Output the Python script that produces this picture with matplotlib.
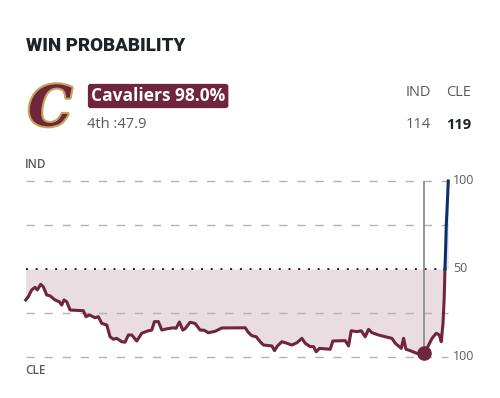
import matplotlib.pyplot as plt
import matplotlib.patheffects as pe
import numpy as np

# game clock (minutes elapsed) and Cavaliers win probability (%)
minutes = [0.0, 0.30, 0.68, 1.06, 1.32, 1.70, 2.00, 2.39, 2.76, 3.33, 3.82, 4.09, 4.35, 4.66,
           5.04, 6.55, 6.85, 7.23, 7.88, 8.25, 8.64, 9.21, 9.58, 9.96, 10.34, 10.91, 11.29,
           11.66, 12.05, 12.62, 13.18, 13.87, 14.32, 14.62, 15.07, 15.46, 16.03, 16.78, 17.08,
           17.46, 17.84, 18.11, 18.67, 19.24, 19.81, 20.27, 20.75, 21.52, 22.28, 24.93, 25.30,
           25.69, 26.18, 26.63, 27.01, 27.96, 28.26, 28.60, 29.10, 29.67, 30.23, 30.80, 31.37,
           31.75, 32.31, 32.69, 33.00, 33.37, 34.59, 34.89, 36.29, 36.67, 36.97, 37.62, 38.11,
           38.56, 38.94, 39.33, 40.08, 40.84, 41.60, 41.98, 42.66, 42.92, 43.19, 43.68, 44.25,
           44.82, 45.24, 45.58, 46.15, 46.64, 46.98, 47.20, 47.40, 47.54, 47.62, 47.71, 47.77,
           47.88, 48.0]
cle_prob = [67.6, 65.7, 61.9, 60.4, 61.9, 58.7, 60.1, 64.8, 65.2, 67.6, 68.6, 70.5, 67.6, 68.6,
            73.3, 73.7, 77.1, 76.1, 77.7, 77.1, 80.9, 81.8, 88.5, 89.9, 89.4, 91.3, 91.6,
            87.5, 87.5, 90.9, 86.5, 85.2, 84.7, 79.9, 79.9, 84.7, 84.0, 83.4, 83.7,
            80.1, 84.7, 83.9, 80.3, 80.9, 84.7, 84.8, 86.2, 85.4, 83.5, 83.4, 86.1,
            87.9, 88.5, 91.3, 93.2, 93.7, 96.4, 93.7, 91.3, 92.2, 93.2, 91.9, 89.4,
            92.2, 94.1, 94.1, 97.0, 95.1, 95.6, 90.9, 90.7, 93.7, 85.1, 85.6, 85.1,
            88.5, 84.3, 86.2, 87.5, 88.5, 89.4, 92.2, 95.1, 89.4, 95.6, 96.4, 97.6,
            98.5, 98.0, 95.1, 89.4, 86.5, 87.5, 91.3, 80.9, 65.7, 50.0, 36.4, 25.0,
            13.6, 0.0]
current_min = 45.24
current_prob = 98.0
away, home = 'IND', 'CLE'
away_score, home_score = 114, 119

wine = '#6f263d'
navy = '#0c2f6b'
gold = '#c5a35a'
grey = '#5a5a5a'

W, H = 500, 398
fig = plt.figure(figsize=(W / 100, H / 100), dpi=100)
fig.patch.set_facecolor('white')


def px(x, y):
    return x / W, 1 - y / H


# header
fig.text(*px(26, 46), 'WIN PROBABILITY', fontsize=13.5, fontweight='heavy', color='#1e2328',
         va='center', family=['Roboto', 'DejaVu Sans'])
fig.text(*px(50, 110), 'C', fontsize=40, fontweight='bold', fontstyle='italic', color=wine,
         family='DejaVu Serif', ha='center', va='center',
         path_effects=[pe.withStroke(linewidth=3, foreground=gold)])
fig.text(*px(91, 96), f'Cavaliers {current_prob:.1f}%', fontsize=12.5, fontweight='bold',
         color='white', va='center', family='Open Sans',
         bbox=dict(boxstyle='round,pad=0.18,rounding_size=0.15', fc=wine, ec='none'))
fig.text(*px(87, 124), '4th :47.9', fontsize=10.5, color=grey, va='center', family='Open Sans')
fig.text(*px(418, 93), away, fontsize=10.5, color=grey, va='center', ha='center', family='Open Sans')
fig.text(*px(459, 93), home, fontsize=10.5, color=grey, va='center', ha='center', family='Open Sans')
fig.text(*px(418, 125), str(away_score), fontsize=10.5, color=grey, va='center', ha='center',
         family='Open Sans')
fig.text(*px(459, 125), str(home_score), fontsize=10.5, color='#1e2328', fontweight='bold',
         va='center', ha='center', family='Open Sans')

# chart
ax = fig.add_axes([25.7 / W, 1 - 357 / H, (448.3 - 25.7) / W, 176 / H])
ax.set_xlim(0, 48)
ax.set_ylim(100, 0)
ax.axis('off')

for lvl in [0, 25, 75, 100]:
    ax.axhline(lvl, color='#b3b3b3', lw=1, linestyle=(0, (6, 7)), zorder=1, clip_on=False)
ax.axhline(50, color='#222222', lw=1.4, linestyle=(0, (1, 4)), zorder=1, clip_on=False)

t = np.array(minutes)
p = np.array(cle_prob)
ax.fill_between(t, p, 50, where=p >= 50, interpolate=True, color='#e9dde1', lw=0, zorder=0)
ax.fill_between(t, p, 50, where=p <= 50, interpolate=True, color='#dce8f4', lw=0, zorder=0)

cut = int(np.argmax(p <= 50))
ax.plot(t[:cut + 1], p[:cut + 1], color=wine, lw=2.2, solid_joinstyle='round', zorder=3,
        clip_on=False)
ax.plot(t[cut:], p[cut:], color=navy, lw=2.2, solid_joinstyle='round', zorder=3, clip_on=False)

ax.plot([current_min, current_min], [0, current_prob], color='#8f8f8f', lw=1.3, zorder=2)
ax.scatter([current_min], [current_prob], s=90, color=wine, zorder=4, clip_on=False)

fig.text(*px(25, 165), away, fontsize=8.5, color=grey, va='center', family='Open Sans',
         fontweight='semibold')
fig.text(*px(25, 371), home, fontsize=8.5, color=grey, va='center', family='Open Sans',
         fontweight='semibold')
for y, lab in [(181, '100'), (269, '50'), (357, '100')]:
    fig.text(*px(453, y), lab, fontsize=9, color=grey, va='center', family='Open Sans')

fig.savefig('out.png', dpi=100)
plt.close(fig)
